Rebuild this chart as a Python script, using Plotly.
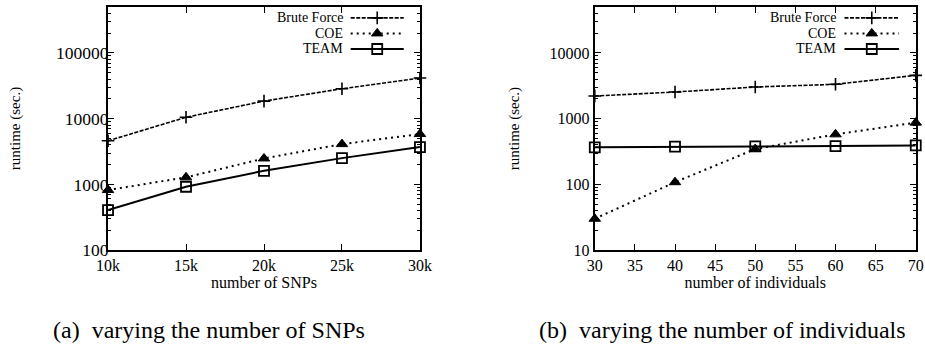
import plotly.graph_objects as go

# ---- data ----
snps = [10000, 15000, 20000, 25000, 30000]
snp_tick_vals = [10000, 15000, 20000, 25000, 30000]
snp_tick_text = ["10k", "15k", "20k", "25k", "30k"]
brute_snps = [4600, 10500, 18500, 28500, 41500]
coe_snps = [820, 1280, 2480, 4100, 5830]
team_snps = [406, 920, 1610, 2510, 3700]

individuals = [30, 40, 50, 60, 70]
brute_ind = [2210, 2540, 3030, 3330, 4560]
coe_ind = [30, 108, 345, 577, 870]
team_ind = [366, 376, 378, 383, 392]

left_y_ticks = [100, 1000, 10000, 100000]
right_y_ticks = [10, 100, 1000, 10000]

series_names = ["Brute Force", "COE", "TEAM"]

FONT = "Liberation Serif"
styles = {
    "Brute Force": dict(line=dict(color="black", width=1.6, dash="4px,1.5px"),
                        marker=dict(symbol="cross-thin", size=9, color="black",
                                    line=dict(color="black", width=1.6))),
    "COE": dict(line=dict(color="black", width=2, dash="2px,4px"),
                marker=dict(symbol="triangle-up", size=10, color="black",
                            line=dict(color="black", width=1))),
    "TEAM": dict(line=dict(color="black", width=2),
                 marker=dict(symbol="square-open", size=10, color="black",
                             line=dict(color="black", width=1.8))),
}

fig = go.Figure()

for xs, ys_list, xa, ya in [
    (snps, [brute_snps, coe_snps, team_snps], "x", "y"),
    (individuals, [brute_ind, coe_ind, team_ind], "x2", "y2"),
]:
    for name, ys in zip(series_names, ys_list):
        st = styles[name]
        fig.add_trace(go.Scatter(x=xs, y=ys, name=name, mode="lines+markers",
                                 line=st["line"], marker=st["marker"],
                                 xaxis=xa, yaxis=ya, cliponaxis=False,
                                 showlegend=False))

# ---- gnuplot-style legend keys (line sample with marker to the right of the label) ----
key_rows = [0.955, 0.891, 0.827]
for xa, ya in [("x3", "y3"), ("x4", "y4")]:
    for name, ky in zip(series_names, key_rows):
        st = styles[name]
        fig.add_trace(go.Scatter(x=[0.778, 0.948], y=[ky, ky], mode="lines",
                                 line=st["line"], xaxis=xa, yaxis=ya,
                                 showlegend=False, hoverinfo="skip"))
        fig.add_trace(go.Scatter(x=[0.863], y=[ky], mode="markers",
                                 marker=st["marker"], xaxis=xa, yaxis=ya,
                                 showlegend=False, hoverinfo="skip"))
        fig.add_annotation(x=0.755, y=ky, xref=xa, yref=ya, text=name,
                           showarrow=False, xanchor="right", yanchor="middle",
                           borderpad=0,
                           font=dict(family=FONT, size=14, color="black"))

dom1 = [0.1168, 0.454]
dom2 = [0.643, 0.990]
ydom = [0.275, 0.980]

axis_common = dict(showline=True, linecolor="black", linewidth=2, mirror="allticks",
                   ticks="inside", ticklen=6, tickwidth=1, tickcolor="black",
                   showgrid=False, zeroline=False,
                   automargin=False)
tf16 = dict(family=FONT, size=16, color="black")

fig.update_layout(
    width=925, height=345,
    margin=dict(l=0, r=0, t=0, b=0),
    plot_bgcolor="white", paper_bgcolor="white",
    font=dict(family=FONT, size=16, color="black"),
    hovermode=False,
    xaxis=dict(domain=dom1, range=[10000, 30000], tickvals=snp_tick_vals,
               ticktext=snp_tick_text, anchor="y", tickfont=tf16,
               title=dict(text="number of SNPs", standoff=2,
                          font=dict(family=FONT, size=16)), **axis_common),
    yaxis=dict(domain=ydom, type="log", range=[2, 5.7], tickvals=left_y_ticks,
               ticktext=[str(v) for v in left_y_ticks], anchor="x",
               tickfont=dict(family=FONT, size=17.5, color="black"),
               ticklabelstandoff=-6,
               minor=dict(ticks="inside", ticklen=3, tickcolor="black", dtick="D1"),
               title=dict(text="runtime (sec.)", standoff=32,
                          font=dict(family=FONT, size=15)), **axis_common),
    xaxis2=dict(domain=dom2, range=[30, 70], dtick=5, tick0=30, anchor="y2",
                tickfont=tf16,
                title=dict(text="number of individuals", standoff=2,
                           font=dict(family=FONT, size=16)), **axis_common),
    yaxis2=dict(domain=ydom, type="log", range=[1, 4.7], tickvals=right_y_ticks,
                ticktext=[str(v) for v in right_y_ticks], anchor="x2",
                tickfont=tf16,
                minor=dict(ticks="inside", ticklen=3, tickcolor="black", dtick="D1"),
                title=dict(text="runtime (sec.)", standoff=26,
                           font=dict(family=FONT, size=15)), **axis_common),
    xaxis3=dict(domain=dom1, range=[0, 1], visible=False, anchor="y3", overlaying="x"),
    yaxis3=dict(domain=ydom, range=[0, 1], visible=False, anchor="x3", overlaying="y"),
    xaxis4=dict(domain=dom2, range=[0, 1], visible=False, anchor="y4", overlaying="x2"),
    yaxis4=dict(domain=ydom, range=[0, 1], visible=False, anchor="x4", overlaying="y2"),
)

fig.add_annotation(x=0.226, y=0.043, xref="paper", yref="paper",
                   text="(a)  varying the number of SNPs", showarrow=False,
                   xanchor="center", yanchor="middle",
                   font=dict(family=FONT, size=24, color="black"))
fig.add_annotation(x=0.781, y=0.043, xref="paper", yref="paper",
                   text="(b)  varying the number of individuals", showarrow=False,
                   xanchor="center", yanchor="middle",
                   font=dict(family=FONT, size=24, color="black"))

fig.write_html("out.html",
               config={"displayModeBar": False, "staticPlot": True},
               post_script="document.body.style.margin='0px';"
                           "document.body.style.overflow='hidden';")
